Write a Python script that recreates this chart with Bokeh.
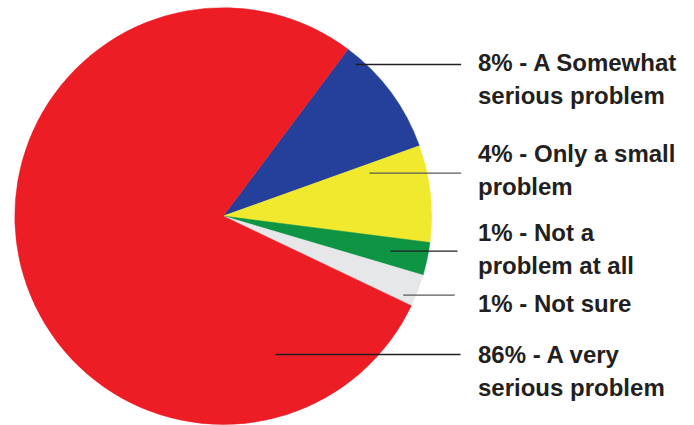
import numpy as np
from bokeh.plotting import figure
from bokeh.models import Range1d, ColumnDataSource
from bokeh.core.properties import value
from bokeh.embed import file_html
from bokeh.resources import INLINE

# ---- data ----
categories = ["A Somewhat serious problem", "Only a small problem",
              "Not a problem at all", "Not sure", "A very serious problem"]
label_percent = [8, 4, 1, 1, 86]
label_lines = [["A Somewhat", "serious problem"],
               ["Only a small", "problem"],
               ["Not a", "problem at all"],
               ["Not sure"],
               ["A very", "serious problem"]]
# share of the circle each slice takes in the drawing (percent of 360 deg)
drawn_share = [9.3, 7.5, 2.55, 2.5, 78.15]
colors = ["#24409A", "#F0E92E", "#0F9443", "#E6E7E8", "#ED1D25"]

# ---- layout ----
W, H = 694, 425
cx, cy, R = 222.7, H - 215.6, 208.4
start_deg = 53.2                       # blue slice starts here, slices run clockwise
label_x = 477.5
label_base_top = [62.0, 153.0, 232.0, 302.5, 354.0]   # first-line baseline (from top)
line_gap = 32.5
lead_y_top = [64.0, 172.7, 250.7, 294.7, 354.0]
lead_x0 = [355.0, 369.0, 390.0, 402.7, 275.0]
lead_x1 = [460.7, 460.7, 457.0, 454.3, 460.0]
lead_col = ["#231F20", "#58595B", "#231F20", "#58595B", "#231F20"]

share = np.array(drawn_share) / sum(drawn_share) * 2 * np.pi
cum = np.cumsum(share)
a0 = np.deg2rad(start_deg)
hi = a0 - (cum - share)
lo = a0 - cum

p = figure(width=W, height=H, x_range=Range1d(0, W), y_range=Range1d(0, H),
           output_backend="svg", toolbar_location=None, min_border=0)
p.axis.visible = False
p.xgrid.visible = False
p.ygrid.visible = False
p.outline_line_color = None
p.background_fill_color = "white"
p.border_fill_color = "white"

src = ColumnDataSource(dict(x=[cx] * 5, y=[cy] * 5, lo=lo, hi=hi, color=colors,
                            cat=categories))
p.wedge(x="x", y="y", radius=R, start_angle="lo", end_angle="hi",
        direction="anticlock", fill_color="color", line_color="color",
        line_width=0.5, source=src)

p.segment(x0=lead_x0, y0=[H - v for v in lead_y_top], x1=lead_x1,
          y1=[H - v for v in lead_y_top], line_color=lead_col, line_width=1.3)

tx, ty, tt = [], [], []
for pct, lines, base in zip(label_percent, label_lines, label_base_top):
    for i, ln in enumerate(lines):
        txt = f"{pct}% - {ln}" if i == 0 else ln
        tx.append(label_x)
        ty.append(H - (base + i * line_gap))
        tt.append(txt)

p.text(x=tx, y=ty, text=tt, text_font=value("Liberation Sans"),
       text_font_style="bold", text_font_size="24px", text_color="#231F20",
       text_baseline="alphabetic", text_align="left")

open("out.html", "w").write(file_html(p, INLINE))
